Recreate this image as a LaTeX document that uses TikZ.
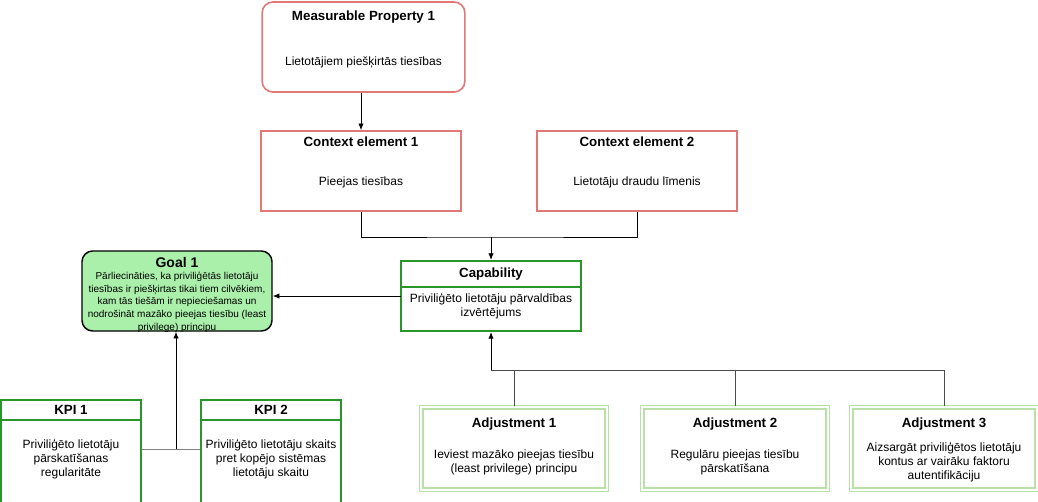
\documentclass[tikz,border=0pt]{standalone}
\usepackage{fontspec}
\setmainfont{Liberation Sans}
\usetikzlibrary{arrows.meta}

\definecolor{ctxred}{RGB}{226,120,118}
\definecolor{capgreen}{RGB}{40,150,40}
\definecolor{adjgreen}{RGB}{185,224,165}
\definecolor{goalfill}{RGB}{170,240,170}

\tikzset{
  pbox/.style={draw=ctxred, line width=1.2pt, fill=white, inner sep=0pt},
  gbox/.style={draw=capgreen, line width=1.5pt, fill=white, inner sep=0pt},
  abox/.style={draw=adjgreen, double, double distance=1.5pt, line width=1.2pt, inner sep=0pt},
  title/.style={font=\bfseries\fontsize{10}{12}\selectfont},
  body/.style={font=\fontsize{9}{10.5}\selectfont, align=center},
  arr/.style={-{Latex[length=5pt,width=4pt]}, line width=0.6pt},
  link/.style={line width=0.6pt}
}

\begin{document}
\begin{tikzpicture}[x=0.75pt,y=-0.75pt]
      \useasboundingbox (0,0) rectangle (1038,501);

      % boxes
      \node[pbox, rounded corners=8pt, minimum width=152pt, minimum height=67.5pt] (mp1) at (363.5,47) {};
      \node[pbox, minimum width=150pt, minimum height=60pt] (ce1) at (361,171) {};
      \node[pbox, minimum width=150pt, minimum height=60pt] (ce2) at (637,171) {};
      \node[gbox, minimum width=135pt, minimum height=19.5pt, title] (caph) at (491,274) {Capability};
      \node[gbox, minimum width=135pt, minimum height=33pt] (capb) at (491,309) {};
      \node[draw, line width=1.1pt, fill=goalfill, rounded corners=8pt, minimum width=142.5pt, minimum height=60pt] (goal) at (177,291) {};
      \node[gbox, minimum width=105pt, minimum height=15pt, title] (kpi1h) at (71,410) {KPI 1};
      \node[gbox, minimum width=105pt, minimum height=64pt] (kpi1b) at (71,463) {};
      \node[gbox, minimum width=105pt, minimum height=15pt, title] (kpi2h) at (271,410) {KPI 2};
      \node[gbox, minimum width=105pt, minimum height=64pt] (kpi2b) at (271,463) {};
      \node[abox, minimum width=139pt, minimum height=62pt] (adj1) at (514,448.5) {};
      \node[abox, minimum width=139pt, minimum height=62pt] (adj2) at (735,448.5) {};
      \node[abox, minimum width=139pt, minimum height=62pt] (adj3) at (944,448.5) {};

      % texts
      \node[title] (mp1t) at (363.5,17) {Measurable Property 1};
      \node[body] (mp1x) at (363.5,62) {Lietotājiem piešķirtās tiesības};
      \node[title] (ce1t) at (361,142) {Context element 1};
      \node[body] (ce1x) at (361,182) {Pieejas tiesības};
      \node[title] (ce2t) at (637,142) {Context element 2};
      \node[body] (ce2x) at (637,182) {Lietotāju draudu līmenis};
      \node[body] (capx) at (491,306) {Priviliģēto lietotāju pārvaldības\\izvērtējums};
      \node[font=\bfseries\fontsize{10.5}{12}\selectfont] (goalt) at (177,262) {Goal 1};
      \node[font=\fontsize{7.5}{9.5}\selectfont, align=center] (goalx) at (177,302)
        {Pārliecināties, ka priviliģētās lietotāju\\tiesības ir piešķirtas tikai tiem cilvēkiem,\\kam tās tiešām ir nepieciešamas un\\nodrošināt mazāko pieejas tiesību (least\\privilege) principu};
      \node[body] (kpi1x) at (71,459) {Priviliģēto lietotāju\\pārskatīšanas\\regularitāte};
      \node[body] (kpi2x) at (271,459) {Priviliģēto lietotāju skaits\\pret kopējo sistēmas\\lietotāju skaitu};
      \node[title] (adj1t) at (514,424) {Adjustment 1};
      \node[body] (adj1x) at (514,462) {Ieviest mazāko pieejas tiesību\\(least privilege) principu};
      \node[title] (adj2t) at (735,424) {Adjustment 2};
      \node[body] (adj2x) at (735,462) {Regulāru pieejas tiesību\\pārskatīšana};
      \node[title] (adj3t) at (944,424) {Adjustment 3};
      \node[body] (adj3x) at (944,462) {Aizsargāt priviliģētos lietotāju\\kontus ar vairāku faktoru\\autentifikāciju};

      % connectors
      \coordinate (cej) at (491,237);
      \coordinate (capw) at (401,296);
      \coordinate (kpij) at (176,449);
      \coordinate (adjj) at (491,370);

      \draw[arr] (ce1.north |- mp1.south) -- (ce1.north);
      \draw[link] (ce1.south) |- (cej) -| (ce2.south);
      \draw[arr] (cej) -- (caph.north);
      \draw[arr] (capw) -- (capw -| goal.east);
      \draw[link, gray] (kpij -| kpi1b.east) -- (kpij -| kpi2b.west);
      \draw[arr] (kpij) -- (kpij |- goal.south);
      \draw[link, black!70] (adj1.north) |- (adjj);
      \draw[link, black!70] (adj2.north) |- (adjj);
      \draw[link, black!70] (adj3.north) |- (adjj);
      \draw[arr] (adjj) -- (capb.south);

    \end{tikzpicture}
\end{document}
